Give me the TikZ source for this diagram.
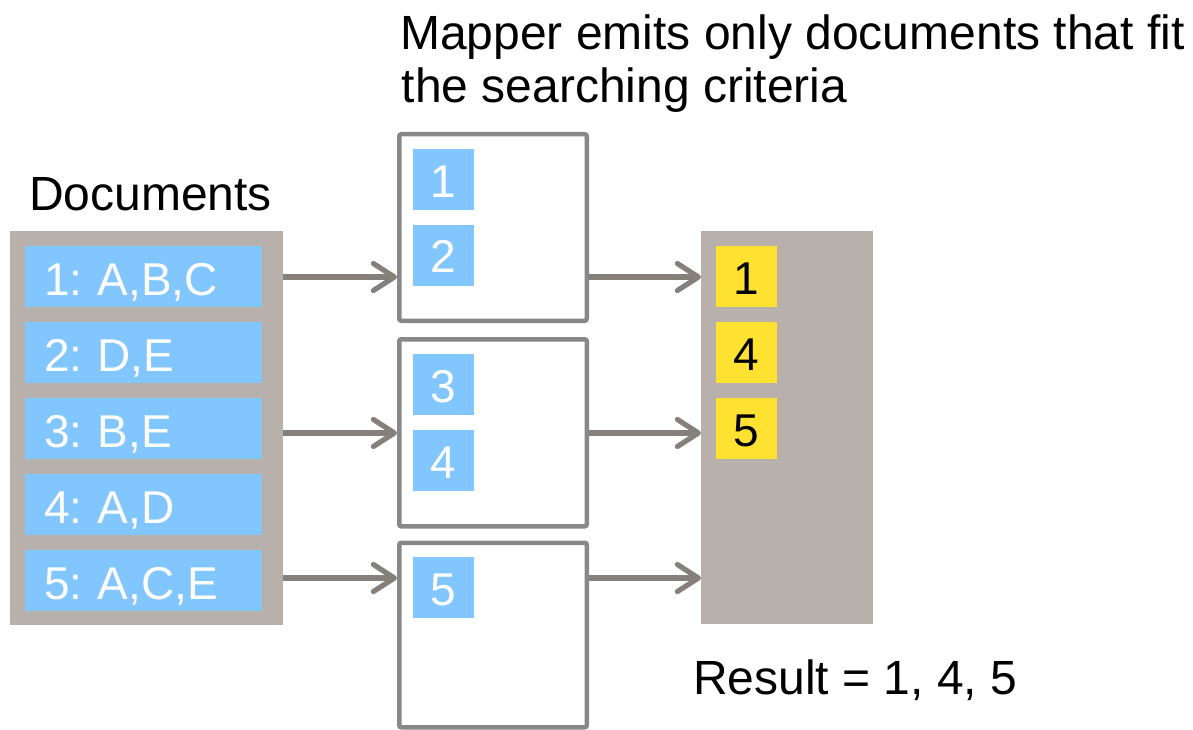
\documentclass[tikz,border=0pt]{standalone}
\usepackage{fontspec}
\setmainfont{Liberation Sans}
\usetikzlibrary{arrows.meta}
\frenchspacing

\definecolor{panelgray}{RGB}{184,176,170}
\definecolor{docblue}{RGB}{130,198,255}
\definecolor{hityellow}{RGB}{255,225,50}
\definecolor{framegray}{RGB}{136,136,136}
\definecolor{arrowgray}{RGB}{134,128,123}

\tikzset{
  panel/.style={fill=panelgray, draw=none, inner sep=0pt, outer sep=0pt, anchor=north west},
  docbox/.style={fill=docblue, text=white, draw=none, anchor=north west,
    minimum width=237pt, minimum height=61pt, inner ysep=0pt, inner xsep=19pt,
    outer sep=0pt, text width=199pt, align=left, text height=37pt, text depth=0pt,
    font=\fontsize{46}{52}\selectfont},
  numbox/.style={draw=none, anchor=north west, minimum width=61pt, minimum height=61pt,
    inner sep=0pt, outer sep=0pt, text height=35pt, text depth=0pt,
    font=\fontsize{46}{52}\selectfont},
  bluenum/.style={numbox, fill=docblue, text=white},
  yellownum/.style={numbox, fill=hityellow, text=black},
  mapbox/.style={draw=framegray, fill=white, line width=4.5pt, rounded corners=2pt,
    anchor=north west, minimum width=187.5pt, inner sep=0pt},
  label/.style={inner sep=0pt, anchor=base west, font=\fontsize{48}{55}\selectfont},
  flow/.style={draw=arrowgray, line width=5.2pt,
    -{Straight Barb[round, length=21pt, width=27pt]}},
}

\begin{document}
\begin{tikzpicture}[x=1pt, y=-1pt]
  \useasboundingbox (0,0) rectangle (1193,730);

  % heading
  \node[label] (head1) at (400,50) {Mapper emits only documents that fit};
  \node[label] (head2) at (401.5,103) {the searching criteria};

  % input documents
  \node[label] (doclabel) at (29,211) {Documents};
  \node[panel, minimum width=273pt, minimum height=394pt] (docs) at (10,231) {};
  \node[docbox] (d1) at (25,246) {1: A,B,C};
  \node[docbox] (d2) at (25,322) {2: D,E};
  \node[docbox] (d3) at (25,398) {3: B,E};
  \node[docbox] (d4) at (25,474) {4: A,D};
  \node[docbox] (d5) at (25,550) {5: A,C,E};

  % mappers
  \node[mapbox, minimum height=186.5pt] (m1) at (397,132) {};
  \node[mapbox, minimum height=187pt] (m2) at (397,337) {};
  \node[mapbox, minimum height=184.5pt] (m3) at (397,540.5) {};
  \node[bluenum] (k1) at (413,149) {1};
  \node[bluenum] (k2) at (413,224.5) {2};
  \node[bluenum] (k3) at (413,354) {3};
  \node[bluenum] (k4) at (413,430) {4};
  \node[bluenum] (k5) at (413,557) {5};

  % result
  \node[panel, minimum width=172pt, minimum height=393pt] (res) at (701,231) {};
  \node[yellownum] (y1) at (716,246) {1};
  \node[yellownum] (y4) at (716,322) {4};
  \node[yellownum] (y5) at (716,398) {5};
  \node[label] (result) at (693,694) {Result = 1, 4, 5};

  % arrow levels
  \coordinate (lvl1) at (0,277);
  \coordinate (lvl2) at (0,433);
  \coordinate (lvl3) at (0,578);

  \draw[flow] (docs.east |- lvl1) -- (m1.west |- lvl1);
  \draw[flow] (docs.east |- lvl2) -- (m2.west |- lvl2);
  \draw[flow] (docs.east |- lvl3) -- (m3.west |- lvl3);
  \draw[flow] (m1.east |- lvl1) -- (res.west |- lvl1);
  \draw[flow] (m2.east |- lvl2) -- (res.west |- lvl2);
  \draw[flow] (m3.east |- lvl3) -- (res.west |- lvl3);
\end{tikzpicture}
\end{document}
